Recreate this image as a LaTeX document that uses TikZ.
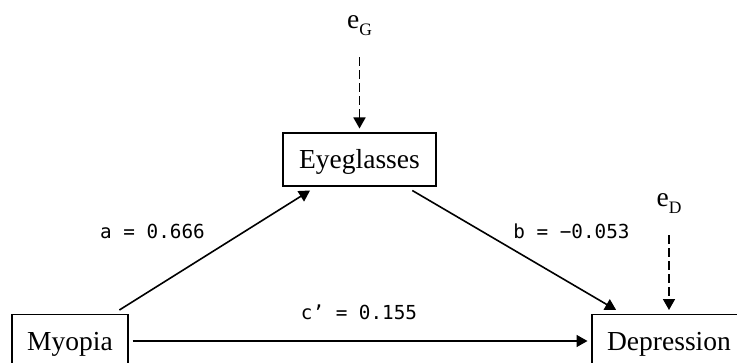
\documentclass[tikz,border=0pt]{standalone}
\usepackage{fontspec}
\setmainfont{Liberation Serif}
\newfontfamily\monof{DejaVu Sans Mono}
\usetikzlibrary{arrows.meta}
\begin{document}
\begin{tikzpicture}[x=1pt,y=1pt,
  box/.style={draw, line width=1.6pt, minimum height=53pt, inner xsep=0pt, inner ysep=0pt,
    text height=18pt, text depth=0pt, outer sep=4.5pt, font=\fontsize{27.5}{30}\selectfont},
  lab/.style={font=\monof\fontsize{19.3}{21}\selectfont, inner sep=0pt, text height=13.8pt, text depth=0pt},
  err/.style={font=\fontsize{27.5}{30}\selectfont, inner sep=0pt, anchor=base},
  conn/.style={line width=1.6pt, -{Triangle[length=11pt,width=12pt]}},
  dashconn/.style={conn, dash pattern=on 9pt off 4pt, shorten <=21pt}]
\useasboundingbox (0,0) rectangle (737,362);
\clip (0,0) rectangle (737,362);
% boxes
\node[box, minimum width=116pt] (my) at (70,21) {Myopia};
\node[box, minimum width=153pt] (eye) at (359.5,202.5) {Eyeglasses};
\node[box, minimum width=154pt] (dep) at (669,21) {Depression};
% error terms
\node[err] (eG) at (359.5,333) {e\raisebox{-7pt}{\fontsize{17.5}{17.5}\selectfont G}};
\node[err] (eD) at (669,155) {e\raisebox{-7pt}{\fontsize{17.5}{17.5}\selectfont D}};
% path labels
\node[lab] (la) at (152.5,130) {a = 0.666};
\node[lab] (lb) at (571.5,130) {b = −0.053};
\node[lab] (lc) at (359,49.5) {c’ = 0.155};
% connectors
\draw[conn] (my) -- (eye);
\draw[conn] (eye) -- (dep);
\draw[conn] (my) -- (dep);
\draw[dashconn] (eG) -- (eye);
\draw[dashconn] (eD) -- (dep);
\end{tikzpicture}
\end{document}
